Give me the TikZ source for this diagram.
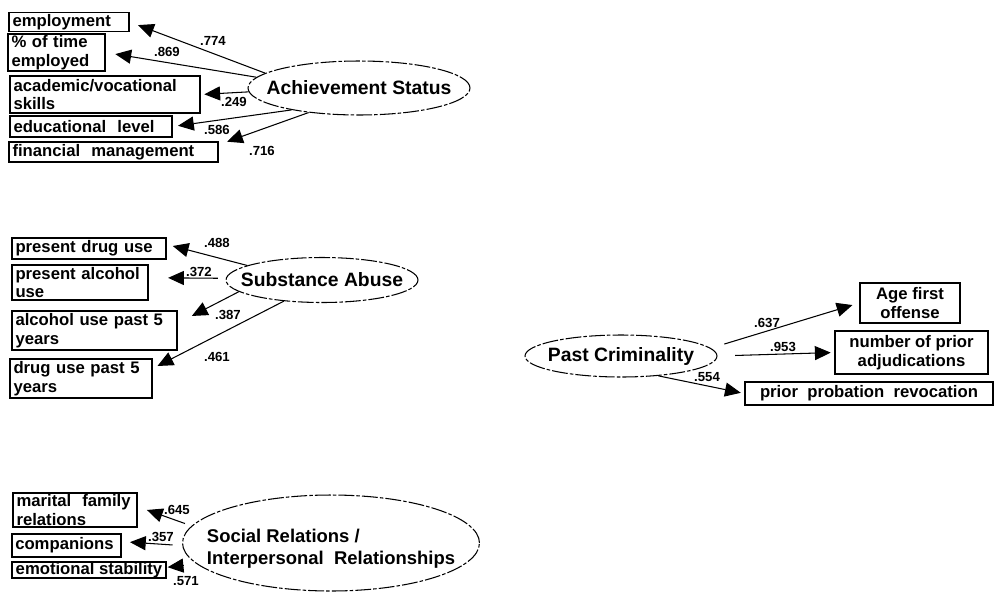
\documentclass[tikz,border=0pt]{standalone}
\usepackage{fontspec}
\setmainfont{Liberation Sans}
\usetikzlibrary{arrows.meta,shapes.geometric}

\begin{document}
\begin{tikzpicture}[x=0.02cm,y=-0.02cm,font=\bfseries,
      box/.style={draw,line width=0.9pt,inner xsep=2pt,inner ysep=1pt,align=left,
                  font=\fontsize{9.5}{10.5}\selectfont\bfseries},
      cbox/.style={box,align=center},
      lat/.style={draw,ellipse,line width=0.6pt,inner sep=0pt,
                  dash pattern={on 9pt off 1.2pt on 2pt off 1.2pt}},
      latlabel/.style={font=\fontsize{11}{13}\selectfont\bfseries,align=left},
      coef/.style={font=\fontsize{7.5}{8}\selectfont\bfseries,inner sep=0pt},
      arr/.style={-{Triangle[length=9pt,width=8pt]},line width=0.6pt}]

    \useasboundingbox (0,0) rectangle (997,592);

    % Achievement Status
    \node[lat,minimum width=4.44cm,minimum height=1.08cm,
          label={[latlabel]center:Achievement Status}] (ach) at (359,88) {};
    \node[box,text width=2.26cm,minimum height=0.36cm] (emp) at (69,22) {employment};
    \node[box,text width=1.80cm,minimum height=0.74cm] (pct) at (56.5,52.5) {\% of time\\employed};
    \node[box,text width=3.66cm,minimum height=0.74cm] (aca) at (105,94.5) {academic/vocational\\skills};
    \node[box,text width=3.10cm,minimum height=0.42cm] (edu) at (91,126.5) {educational\ \ level};
    \node[box,text width=4.04cm,minimum height=0.40cm] (fin) at (113.5,152) {financial\ \ management};

    \foreach \a/\b/\s in {ach.171/emp.east/5pt,ach.174/pct.east/5.5pt,ach.182/aca.east/2pt,
                          ach.198/edu.east/3pt,ach.206/fin.4/5pt}
      \draw[arr,shorten >=\s] (\a) -- (\b);

    \node[coef] (c774) at (213,41)  {.774};
    \node[coef] (c869) at (167,52)  {.869};
    \node[coef] (c249) at (234,102) {.249};
    \node[coef] (c586) at (217,130) {.586};
    \node[coef] (c716) at (262,151) {.716};

    % Substance Abuse
    \node[lat,minimum width=3.84cm,minimum height=0.90cm,
          label={[latlabel]center:Substance Abuse}] (sub) at (322,280) {};
    \node[box,text width=2.94cm,minimum height=0.42cm] (pdu) at (89,248.5) {present drug use};
    \node[box,text width=2.58cm,minimum height=0.70cm] (pau) at (80,282.5) {present alcohol\\use};
    \node[box,text width=3.16cm,minimum height=0.78cm] (ap5) at (94.5,330.5) {alcohol use past 5\\years};
    \node[box,text width=2.70cm,minimum height=0.78cm] (dp5) at (81,378.5) {drug use past 5\\years};

    \draw[arr,shorten >=3.5pt] (sub.169) -- (pdu.3);
    \draw[arr,shorten <=4.5pt,shorten >=11pt] (sub.179) -- (pau.4);
    \draw[arr,shorten >=9pt] (sub.188) -- (ap5.5);
    \draw[arr,shorten >=3pt] (sub.209) -- (dp5.8);

    \node[coef] (c488) at (217,243) {.488};
    \node[coef] (c372) at (199,272) {.372};
    \node[coef] (c387) at (228,315) {.387};
    \node[coef] (c461) at (217,357) {.461};

    % Past Criminality
    \node[lat,minimum width=3.84cm,minimum height=0.84cm,
          label={[latlabel]center:Past Criminality}] (past) at (621,356) {};
    \node[cbox,minimum width=2.00cm,minimum height=0.80cm] (afo) at (910,303) {Age first\\offense};
    \node[cbox,minimum width=3.06cm,minimum height=0.86cm] (npa) at (911.5,352.5) {number of prior\\adjudications};
    \node[cbox,minimum width=4.96cm,minimum height=0.46cm] (ppr) at (869,393.5) {prior\ \ probation\ \ revocation};

    \draw[arr,shorten <=8pt,shorten >=4pt] (past.5) -- (afo.west);
    \draw[arr,shorten <=10pt,shorten >=2pt] (past.0) -- (npa.west);
    \draw[arr,shorten >=2pt] (past.332) -- (ppr.west);

    \node[coef] (c637) at (767,323) {.637};
    \node[coef] (c953) at (783,347) {.953};
    \node[coef] (c554) at (707,377) {.554};

    % Social Relations
    \node[lat,minimum width=5.94cm,minimum height=1.92cm,
          label={[latlabel,font=\fontsize{10.5}{12.5}\selectfont\bfseries,yshift=-0.12cm]center:{Social Relations /\\Interpersonal\ \ Relationships}}] (soc) at (331,543) {};
    \node[box,text width=2.34cm,minimum height=0.68cm] (mfr) at (75,510) {marital\ \ family\\relations};
    \node[box,text width=2.05cm,minimum height=0.46cm] (com) at (66.5,545.5) {companions};
    \node[cbox,minimum width=3.08cm,minimum height=0.28cm,inner ysep=0pt] (emo) at (89,570) {emotional stability};

    \draw[arr,shorten <=4pt,shorten >=5.5pt] (soc.173) -- (mfr.3);
    \draw[arr,shorten <=5.5pt,shorten >=4.5pt] (soc.181) -- (com.4);
    \draw[arr,shorten <=7.5pt,shorten >=0.5pt] (soc.189) -- (emo.2);

    \node[coef] (c645) at (177,510) {.645};
    \node[coef] (c357) at (161,537) {.357};
    \node[coef] (c571) at (186,581) {.571};
  \end{tikzpicture}
\end{document}
